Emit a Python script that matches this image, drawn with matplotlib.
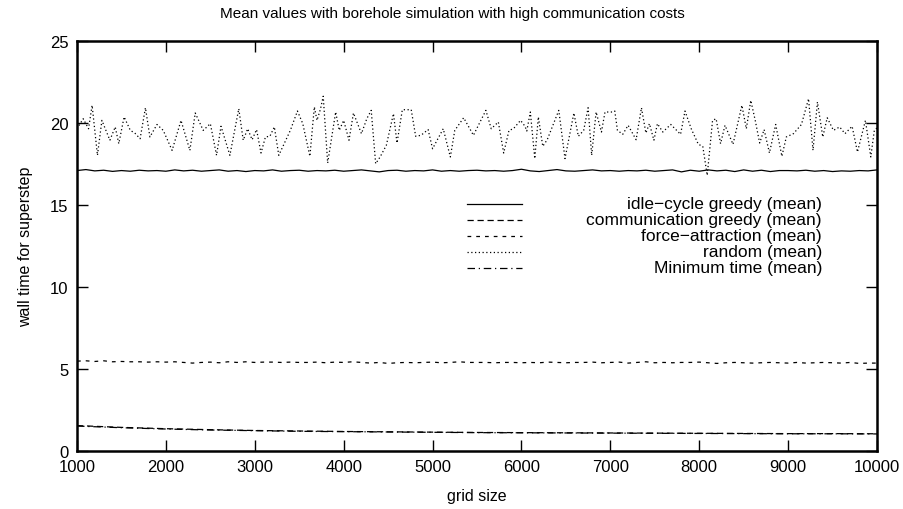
import matplotlib
matplotlib.use("Agg")
import matplotlib.pyplot as plt
import numpy as np

plt.rcParams["font.family"] = ["Liberation Sans", "DejaVu Sans"]

# random placement: vertices (grid size, wall time)
random_x = [
    1000, 1070, 1130, 1170, 1230, 1280, 1370, 1430, 1470, 1530,
    1600, 1650, 1710, 1770, 1820, 1900, 1970, 2070, 2170, 2270,
    2330, 2420, 2500, 2570, 2620, 2720, 2820, 2870, 2920, 2970,
    3020, 3070, 3120, 3170, 3220, 3270, 3400, 3480, 3540, 3620,
    3670, 3700, 3740, 3770, 3820, 3910, 3950, 4000, 4060, 4110,
    4200, 4260, 4310, 4360, 4410, 4480, 4560, 4600, 4660, 4760,
    4810, 4870, 4950, 5000, 5120, 5200, 5250, 5350, 5460, 5510,
    5600, 5660, 5740, 5800, 5860, 5910, 5990, 6040, 6060, 6100,
    6150, 6190, 6240, 6290, 6420, 6490, 6590, 6640, 6700, 6750,
    6790, 6840, 6900, 6940, 7020, 7050, 7080, 7140, 7200, 7290,
    7350, 7400, 7440, 7490, 7530, 7590, 7680, 7790, 7840, 7910,
    7990, 8040, 8090, 8150, 8190, 8240, 8290, 8380, 8480, 8530,
    8580, 8630, 8680, 8730, 8790, 8860, 8930, 8980, 9060, 9150,
    9230, 9280, 9330, 9390, 9440, 9510, 9580, 9640, 9720, 9780,
    9870, 9930, 9970, 10000,
]
random_y = [
    19.65, 20.26, 19.65, 21.08, 18.03, 20.16, 18.95, 19.76, 18.74, 20.37,
    19.55, 19.39, 19.04, 20.93, 19.15, 19.91, 19.55, 18.33, 20.16, 18.33,
    20.61, 19.55, 19.96, 18.03, 19.80, 18.03, 20.87, 18.95, 19.65, 18.98,
    19.60, 18.17, 19.15, 19.19, 19.76, 18.03, 19.55, 20.73, 19.96, 17.97,
    20.98, 20.16, 20.87, 21.63, 17.56, 20.67, 19.55, 20.16, 18.95, 20.61,
    19.35, 20.26, 20.77, 17.52, 17.93, 18.64, 20.57, 18.78, 20.81, 20.81,
    19.19, 19.25, 19.60, 18.43, 19.65, 17.93, 19.55, 20.32, 19.25, 19.80,
    20.77, 19.65, 20.06, 18.17, 19.55, 19.65, 20.16, 19.80, 19.51, 20.67,
    17.83, 20.37, 18.58, 18.98, 20.77, 17.83, 20.61, 19.19, 19.55, 20.93,
    18.03, 20.67, 19.45, 20.67, 20.67, 20.73, 19.55, 19.31, 19.86, 18.98,
    20.93, 19.39, 19.96, 18.95, 19.96, 19.45, 19.91, 19.31, 20.73, 19.65,
    18.70, 18.58, 16.81, 20.16, 20.26, 18.74, 19.86, 18.70, 21.08, 19.65,
    21.38, 20.16, 18.78, 19.60, 18.17, 19.91, 17.97, 19.15, 19.35, 19.91,
    21.48, 18.33, 21.28, 19.15, 20.32, 19.55, 19.76, 19.35, 19.80, 18.23,
    20.16, 17.93, 19.55, 19.70,
]

# the other strategies, read every 100 grid points
grid = list(range(1000, 10001, 100))
idle_cycle = [
    17.10, 17.16, 17.08, 17.12, 17.05, 17.10, 17.06, 17.12, 17.08, 17.10,
    17.06, 17.14, 17.08, 17.12, 17.06, 17.10, 17.14, 17.06, 17.10, 17.04,
    17.10, 17.08, 17.14, 17.06, 17.10, 17.12, 17.06, 17.10, 17.08, 17.12,
    17.06, 17.10, 17.14, 17.08, 17.02, 17.10, 17.12, 17.06, 17.10, 17.08,
    17.14, 17.06, 17.10, 17.06, 17.10, 17.12, 17.08, 17.10, 17.06, 17.10,
    17.18, 17.08, 17.04, 17.10, 17.16, 17.08, 17.06, 17.10, 17.14, 17.08,
    17.10, 17.06, 17.10, 17.08, 17.12, 17.06, 17.10, 17.14, 17.02, 17.12,
    17.06, 17.14, 17.08, 17.12, 17.04, 17.14, 17.06, 17.12, 17.04, 17.10,
    17.10, 17.08, 17.12, 17.06, 17.10, 17.04, 17.08, 17.06, 17.10, 17.08,
    17.14,
]
force_attraction = [
    5.48, 5.50, 5.46, 5.50, 5.44, 5.46, 5.44, 5.44, 5.42, 5.44,
    5.42, 5.44, 5.40, 5.36, 5.40, 5.42, 5.38, 5.44, 5.40, 5.44,
    5.40, 5.42, 5.42, 5.40, 5.42, 5.40, 5.40, 5.42, 5.38, 5.42,
    5.40, 5.44, 5.40, 5.36, 5.40, 5.34, 5.38, 5.40, 5.38, 5.40,
    5.42, 5.38, 5.40, 5.44, 5.40, 5.40, 5.40, 5.38, 5.40, 5.40,
    5.38, 5.40, 5.38, 5.42, 5.40, 5.38, 5.40, 5.40, 5.42, 5.38,
    5.40, 5.42, 5.36, 5.40, 5.44, 5.38, 5.40, 5.38, 5.40, 5.40,
    5.42, 5.38, 5.34, 5.38, 5.40, 5.38, 5.36, 5.38, 5.40, 5.38,
    5.36, 5.40, 5.36, 5.38, 5.40, 5.38, 5.36, 5.40, 5.34, 5.36,
    5.36,
]
grid_coarse = list(range(1000, 10001, 500))
comm_greedy = [1.55, 1.44, 1.36, 1.30, 1.25, 1.22, 1.19, 1.17, 1.15, 1.13,
               1.12, 1.11, 1.10, 1.09, 1.08, 1.07, 1.06, 1.06, 1.05]
min_time = [1.52, 1.42, 1.34, 1.28, 1.24, 1.20, 1.18, 1.16, 1.14, 1.12,
            1.11, 1.10, 1.09, 1.08, 1.07, 1.06, 1.05, 1.05, 1.04]

labels = [
    "idle\u2212cycle greedy (mean)",
    "communication greedy (mean)",
    "force\u2212attraction (mean)",
    "random (mean)",
    "Minimum time (mean)",
]
styles = [
    dict(linestyle="-"),
    dict(linestyle=(0, (5, 3))),
    dict(linestyle=(0, (3, 4))),
    dict(linestyle=(0, (1, 2))),
    dict(linestyle=(0, (6, 3, 1, 3))),
]

fig = plt.figure(figsize=(9.04, 5.10), dpi=100)
ax = fig.add_axes([77 / 904, 58 / 510, 800 / 904, 410 / 510])

series = [
    (grid, idle_cycle),
    (grid_coarse, comm_greedy),
    (grid, force_attraction),
    (random_x, random_y),
    (grid_coarse, min_time),
]
for (xs, ys), st in zip(series, styles):
    ax.plot(xs, ys, color="black", linewidth=0.9, **st)

ax.set_xlim(1000, 10000)
ax.set_ylim(0, 25)
ax.set_xticks(range(1000, 10001, 1000))
ax.set_yticks(range(0, 26, 5))
ax.tick_params(direction="in", length=8, width=1, top=True, right=True,
               labelsize=12, pad=6, colors="black")
for sp in ax.spines.values():
    sp.set_linewidth(1.8)

ax.set_xlabel("grid size", fontsize=11.5, labelpad=10)
ax.set_ylabel("wall time for superstep", fontsize=11.5, labelpad=12)
fig.text(0.5, 1 - 14 / 510, "Mean values with borehole simulation with high communication costs",
         ha="center", va="center", fontsize=11)

# key drawn gnuplot-style: sample line on the left, text right-aligned
row_y = [205, 221, 237, 253, 269]
for lab, st, ry in zip(labels, styles, row_y):
    yy = 1 - (ry - 42) / 410
    ax.plot([(467 - 77) / 800, (522 - 77) / 800], [yy, yy], color="black",
            linewidth=0.9, transform=ax.transAxes, **st)
    ax.text((822 - 77) / 800, yy, lab, transform=ax.transAxes, ha="right",
            va="center", fontsize=12.5)

fig.savefig("out.png", dpi=100)
